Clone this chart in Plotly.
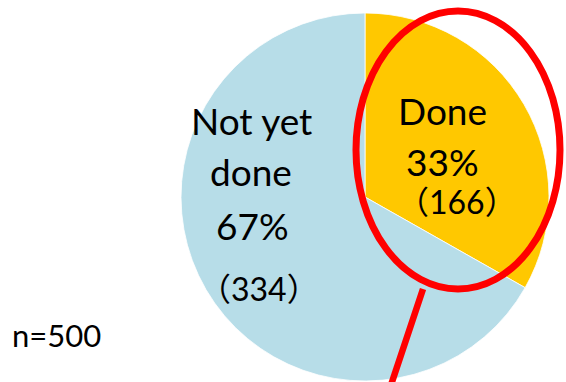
import plotly.graph_objects as go

# Survey result: how many respondents have done it
labels = ["Done", "Not yet done"]
counts = [166, 334]
colors = ["#FFC800", "#B7DDE8"]
total = sum(counts)
percents = [round(c * 100 / total) for c in counts]

W, H = 566, 382


def px(x):
    return x / W


def py(y):
    return 1 - y / H


# pie placement in pixels (centre and radius)
cx, cy, r = 365, 197, 184

fig = go.Figure(
    go.Pie(
        labels=labels,
        values=counts,
        sort=False,
        direction="clockwise",
        rotation=0,
        marker=dict(colors=colors, line=dict(color="white", width=0.8)),
        textinfo="none",
        hoverinfo="label+value+percent",
        showlegend=False,
        domain=dict(x=[px(cx - r), px(cx + r)], y=[py(cy + r), py(cy - r)]),
    )
)

FONT = "Lato, 'Noto Sans CJK JP', sans-serif"
main_size = 37
count_size = 32


def note(text, x, y, size):
    fig.add_annotation(
        text=text, x=px(x), y=py(y), xref="paper", yref="paper",
        xanchor="center", yanchor="middle", showarrow=False,
        font=dict(family=FONT, size=size, color="black"),
    )


# "Not yet done" slice label
note("Not yet", 251, 120, main_size)
note("done", 251, 172, main_size)
note(f"{percents[1]}%", 252, 225, main_size)
note(f"（{counts[1]}）", 259, 288, count_size)

# "Done" slice label
note(labels[0], 442, 110, main_size)
note(f"{percents[0]}%", 442, 161, main_size)
note(f"（{counts[0]}）", 457, 202, count_size)

# sample size
note(f"n={total}", 56, 335, 31)

# red highlight ellipse around the "Done" slice and its pointer line
fig.add_shape(type="circle", xref="paper", yref="paper",
              x0=px(356), x1=px(560), y0=py(289), y1=py(11),
              line=dict(color="#FF0000", width=7))
fig.add_shape(type="line", xref="paper", yref="paper",
              x0=px(423), y0=py(289), x1=px(390), y1=py(388),
              line=dict(color="#FF0000", width=6.5))

fig.update_layout(
    width=W, height=H,
    margin=dict(l=0, r=0, t=0, b=0),
    paper_bgcolor="white",
    plot_bgcolor="white",
)

fig.write_html("out.html")
